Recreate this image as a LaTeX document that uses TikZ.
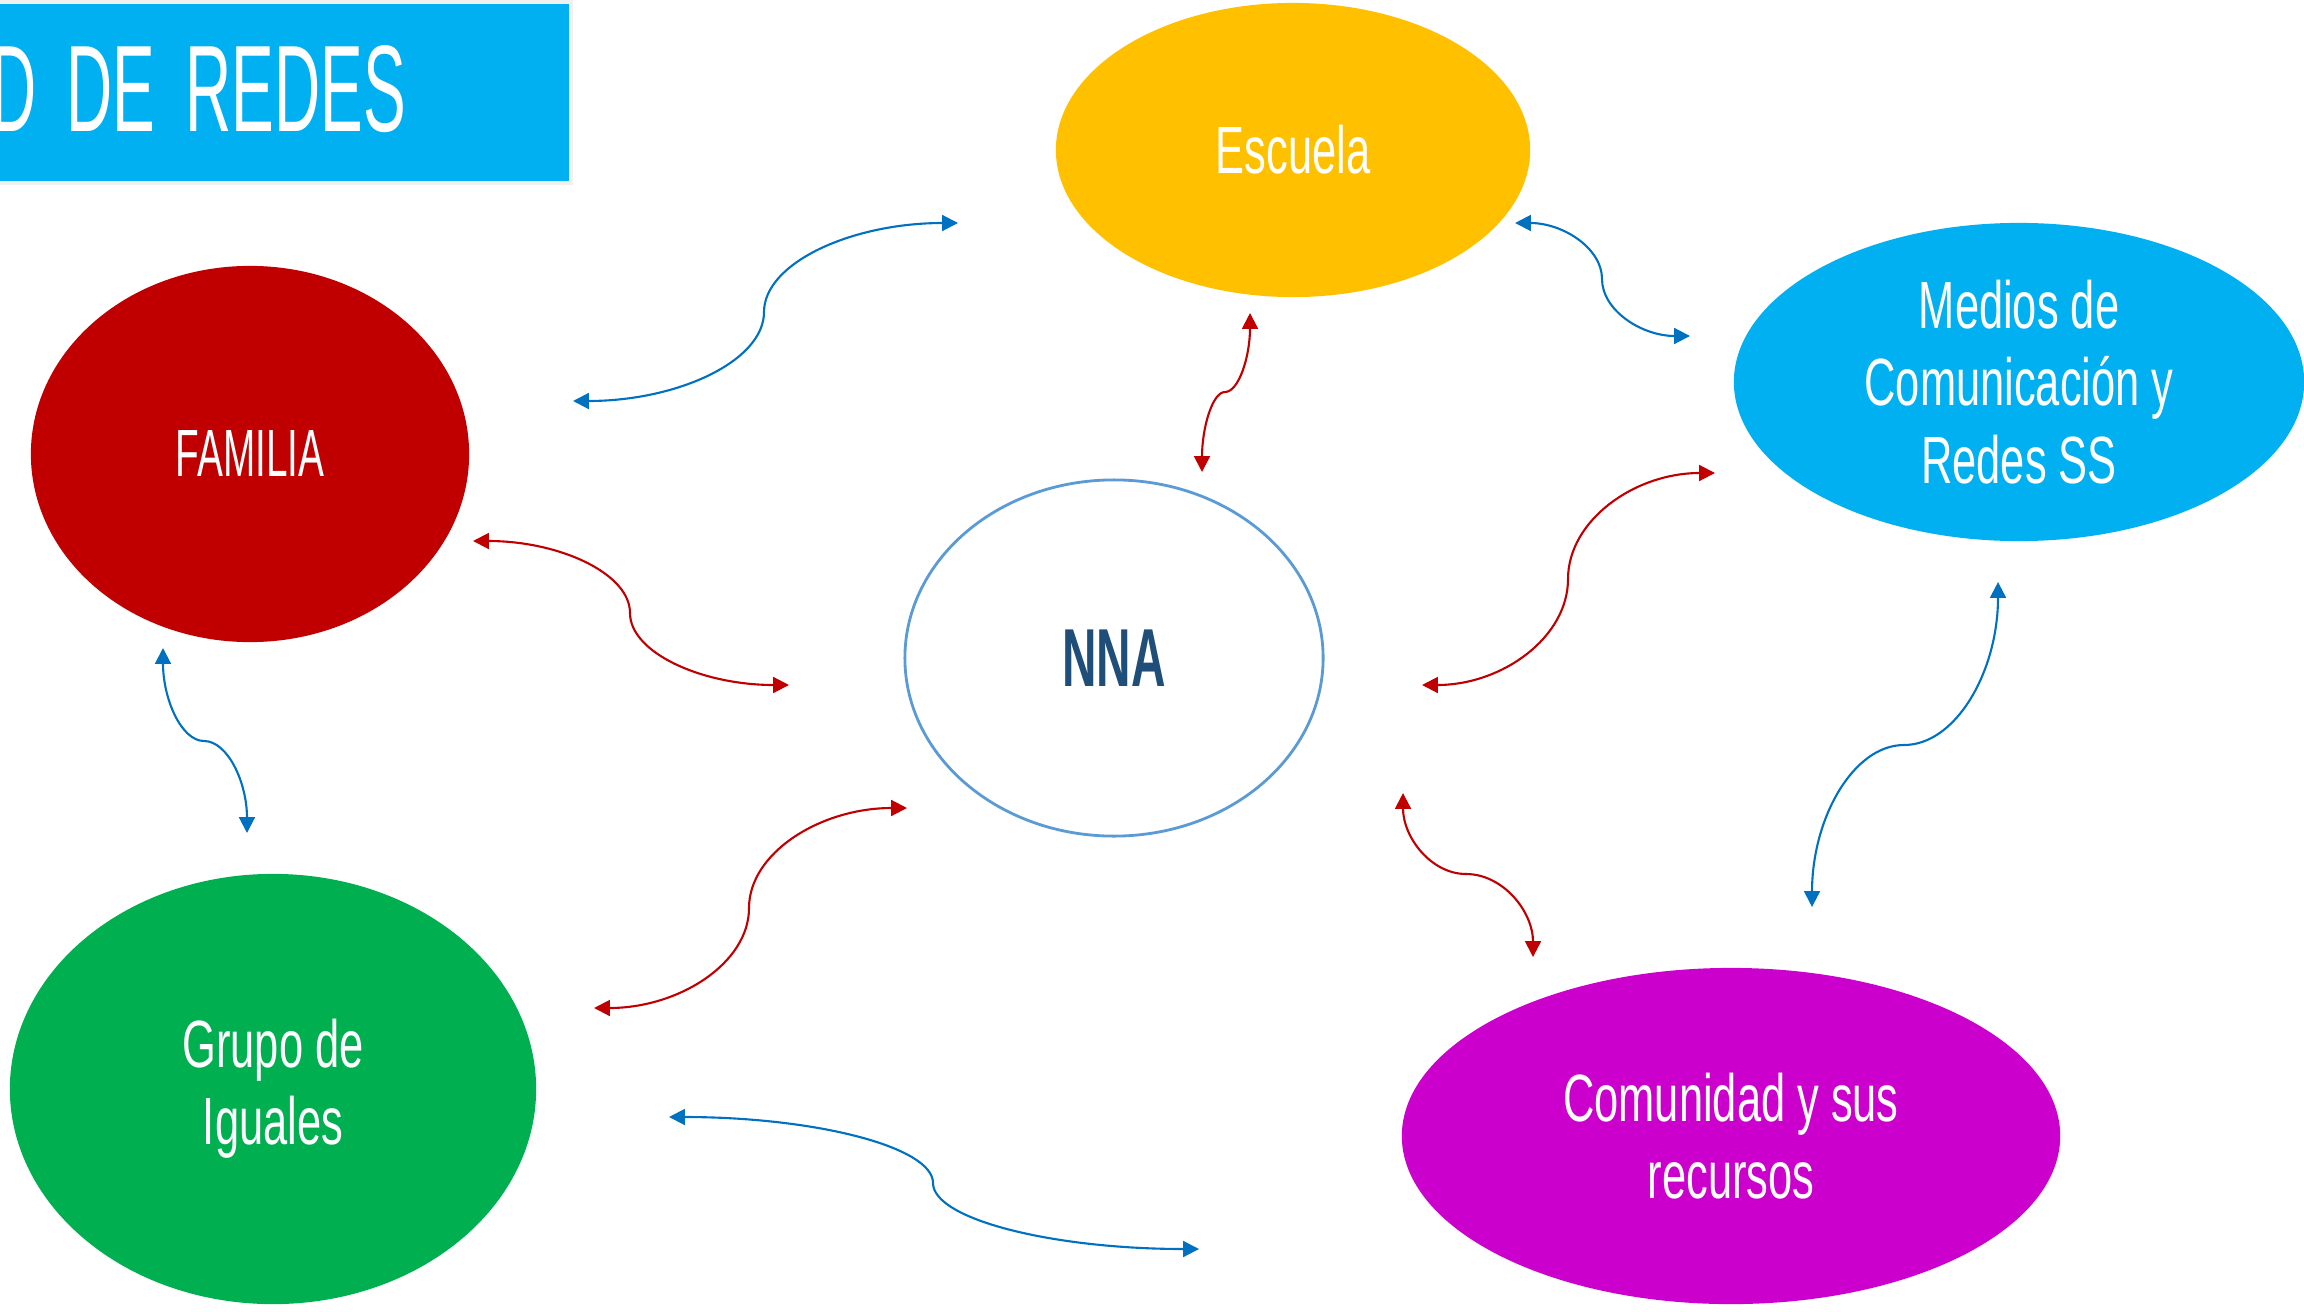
\documentclass[tikz,border=0pt]{standalone}
\usepackage{fontspec}
\usetikzlibrary{shapes.geometric,arrows.meta,calc}

\newfontfamily\agency{Liberation Sans}[FakeStretch=0.65]
\newfontfamily\famfont{Liberation Sans}[FakeStretch=0.58]
\newfontfamily\agencytitle{Liberation Sans}[FakeStretch=0.52, WordSpace=1.7]
\newfontfamily\nnafont{Liberation Sans}[FakeStretch=0.58]

\definecolor{linkblue}{HTML}{0070C0}
\definecolor{linkred}{HTML}{C00000}
\definecolor{skyblue}{HTML}{00B0F0}
\definecolor{escuela}{HTML}{FFC000}
\definecolor{familia}{HTML}{C00000}
\definecolor{grupo}{HTML}{00B050}
\definecolor{comunidad}{HTML}{CC00CC}
\definecolor{nnaline}{HTML}{5B9BD5}
\definecolor{nnatext}{HTML}{1F4E79}

% curved link: horizontal at both ends, vertical at the turning point
\newcommand\hlink[4]{\draw[#1] (#2)
  .. controls ($(#2)!.55!(#2 -| #3)$) and ($(#3)!.55!(#2 -| #3)$) .. (#3)
  .. controls ($(#3)!.55!(#4 -| #3)$) and ($(#4)!.55!(#4 -| #3)$) .. (#4);}
% curved link: vertical at both ends, horizontal at the turning point
\newcommand\vlink[4]{\draw[#1] (#2)
  .. controls ($(#2)!.55!(#2 |- #3)$) and ($(#3)!.55!(#2 |- #3)$) .. (#3)
  .. controls ($(#3)!.55!(#4 |- #3)$) and ($(#4)!.55!(#4 |- #3)$) .. (#4);}

\begin{document}
\begin{tikzpicture}[x=0.01cm, y=0.01cm,
  bubble/.style={ellipse, inner sep=0pt, text=white, align=center, font=\agency\fontsize{19}{22}\selectfont},
  blue link/.style={draw=linkblue, line width=0.6pt, {Triangle[length=4.5pt,width=4.5pt]}-{Triangle[length=4.5pt,width=4.5pt]}},
  red link/.style={blue link, draw=linkred}]
  \clip (0,0) rectangle (2304,1311);

  % heading
  \node[fill=skyblue, draw=gray!12, line width=1pt, anchor=south west, inner sep=0pt,
    minimum width=5.89cm, minimum height=1.81cm] (head) at (-20,1126) {};
  \node[anchor=base east, inner sep=0pt, text=white, font=\agencytitle\fontsize{35}{40}\selectfont]
    (title) at (407,1179) {D DE REDES};

  % the networks
  \node[bubble, fill=escuela, minimum width=4.74cm, minimum height=2.94cm] (esc) at (1293,1161) {Escuela};
  \node[bubble, fill=skyblue, minimum width=5.70cm, minimum height=3.18cm] (med) at (2019,929) {Medios de\\Comunicación y\\Redes SS};
  \node[bubble, fill=familia, font=\famfont\fontsize{19}{22}\selectfont,
    minimum width=4.38cm, minimum height=3.76cm] (fam) at (250,857) {FAMILIA};
  \node[bubble, draw=nnaline, line width=0.8pt, text=nnatext, font=\nnafont\bfseries\fontsize{23.4}{28}\selectfont,
    minimum width=4.18cm, minimum height=3.56cm] (nna) at (1114,653) {NNA};
  \node[bubble, fill=grupo, minimum width=5.26cm, minimum height=4.30cm] (gru) at (273,222) {Grupo de\\Iguales};
  \node[bubble, fill=comunidad, minimum width=6.58cm, minimum height=3.36cm] (com) at (1731,175) {Comunidad y sus\\recursos};

  % link ends and turning points
  \foreach \n/\x/\y in {fe1/573/910, fe2/764/999, fe3/958/1088,
      em1/1515/1088, em2/1602/1032, em3/1690/975,
      ne1/1202/839, ne2/1225/919, ne3/1250/998,
      fn1/473/770, fn2/630/698, fn3/789/626,
      nm1/1422/626, nm2/1568/732, nm3/1715/838,
      fg1/163/663, fg2/204/570, fg3/247/478,
      gn1/594/303, gn2/749/403, gn3/907/503,
      nc1/1403/518, nc2/1466/437, nc3/1533/354,
      mc1/1998/729, mc2/1904/566, mc3/1812/404,
      gc1/669/194, gc2/933/128, gc3/1199/62}
    \coordinate (\n) at (\x,\y);

  \hlink{blue link}{fe1}{fe2}{fe3}
  \hlink{blue link}{em1}{em2}{em3}
  \vlink{red link}{ne1}{ne2}{ne3}
  \hlink{red link}{fn1}{fn2}{fn3}
  \hlink{red link}{nm1}{nm2}{nm3}
  \vlink{blue link}{fg1}{fg2}{fg3}
  \hlink{red link}{gn1}{gn2}{gn3}
  \vlink{red link}{nc1}{nc2}{nc3}
  \vlink{blue link}{mc1}{mc2}{mc3}
  \hlink{blue link}{gc1}{gc2}{gc3}
\end{tikzpicture}
\end{document}
